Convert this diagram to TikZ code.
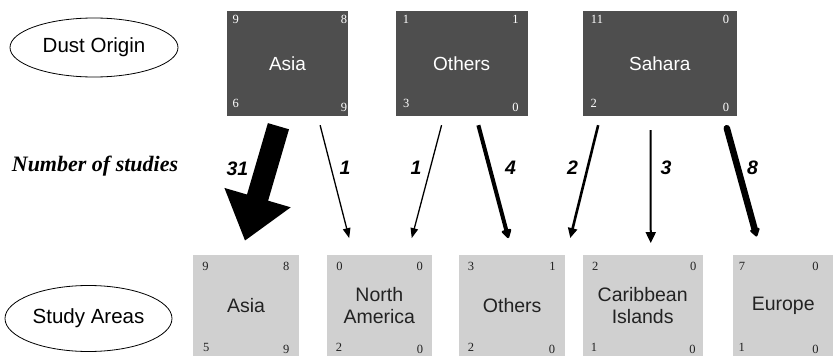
\documentclass[tikz,border=0pt]{standalone}
\usepackage{fontspec}
\setmainfont{Liberation Serif}
\newfontfamily\labelfont{Liberation Sans}
\usetikzlibrary{arrows.meta,calc,shapes.geometric}
\definecolor{darkbox}{HTML}{4E4E4E}
\definecolor{lightbox}{HTML}{D0D0D0}
\definecolor{inktext}{HTML}{222222}

\begin{document}
\begin{tikzpicture}[x=1pt,y=-1pt,
  oval/.style={ellipse, draw=black, line width=0.8pt, inner sep=0,
    font=\labelfont\fontsize{20.5}{24}\selectfont},
  srcbox/.style={rectangle, fill=darkbox, text=white, inner sep=0,
    minimum height=105pt, font=\labelfont\fontsize{19}{22}\selectfont},
  dstbox/.style={rectangle, fill=lightbox, text=inktext, inner sep=0,
    minimum height=101pt, align=center,
    font=\labelfont\fontsize{19.5}{22}\selectfont},
  srcnum/.style={text=white, inner sep=0, font=\fontsize{12.5}{13}\selectfont},
  dstnum/.style={text=inktext, inner sep=0, font=\fontsize{12.5}{13}\selectfont},
  count/.style={inner sep=0, font=\labelfont\bfseries\itshape\fontsize{19.5}{20}\selectfont},
  thinflow/.style={draw=black, line width=1.3pt, -{Triangle[width=7.5pt,length=10pt]}},
]
\useasboundingbox (0,0) rectangle (833,356);

% legend ovals and side caption
\node[oval, minimum width=168pt, minimum height=59pt] (origin) at (94,47.5) {Dust Origin};
\node[oval, minimum width=167pt, minimum height=66pt] (areas) at (88.5,318.5) {Study Areas};
\node[inner sep=0, font=\bfseries\itshape\fontsize{22}{24}\selectfont] (nstudies) at (95,166) {Number of studies};

% dust source regions
\node[srcbox, minimum width=120.4pt] (asiaT) at (287.5,63.5) {Asia};
\node[srcbox, minimum width=132pt]   (othT)  at (461.7,63.5) {Others};
\node[srcbox, minimum width=153.7pt] (sahT)  at (659.8,63.5) {Sahara};

% study areas
\node[dstbox, minimum width=106pt]   (asiaB) at (246,305.5) {Asia};
\node[dstbox, minimum width=105.3pt] (naB)   at (379.3,305.5) {North\\America};
\node[dstbox, minimum width=105.7pt] (othB)  at (512.2,305.5) {Others};
\node[dstbox, minimum width=120pt]   (carB)  at (642.7,305.5) {Caribbean\\Islands};
\node[dstbox, minimum width=99.7pt]  (eurB)  at (783.2,305.5) {Europe};

% corner figures of the source boxes
\node[srcnum] (asiaT-tl) at (235.7,19) {9};
\node[srcnum] (asiaT-tr) at (344,19) {8};
\node[srcnum] (asiaT-bl) at (235.7,103.5) {6};
\node[srcnum] (asiaT-br) at (344,107.5) {9};
\node[srcnum] (othT-tl) at (406,19) {1};
\node[srcnum] (othT-tr) at (515.5,19) {1};
\node[srcnum] (othT-bl) at (406.3,103.5) {3};
\node[srcnum] (othT-br) at (515.5,107.5) {0};
\node[srcnum] (sahT-tl) at (597,19) {11};
\node[srcnum] (sahT-tr) at (726,19) {0};
\node[srcnum] (sahT-bl) at (593.7,103.5) {2};
\node[srcnum] (sahT-br) at (726,107.5) {0};

% corner figures of the study-area boxes
\node[dstnum] (asiaB-tl) at (205.5,266) {9};
\node[dstnum] (asiaB-tr) at (286.3,266) {8};
\node[dstnum] (asiaB-bl) at (206.3,347) {5};
\node[dstnum] (asiaB-br) at (286.3,349) {9};
\node[dstnum] (naB-tl) at (339.5,266) {0};
\node[dstnum] (naB-tr) at (419.7,266) {0};
\node[dstnum] (naB-bl) at (339,347) {2};
\node[dstnum] (naB-br) at (420,349) {0};
\node[dstnum] (othB-tl) at (471,266) {3};
\node[dstnum] (othB-tr) at (552.5,266) {1};
\node[dstnum] (othB-bl) at (471,347) {2};
\node[dstnum] (othB-br) at (552,349) {0};
\node[dstnum] (carB-tl) at (595.3,266) {2};
\node[dstnum] (carB-tr) at (693.3,266) {0};
\node[dstnum] (carB-bl) at (594,347) {1};
\node[dstnum] (carB-br) at (692.5,349) {0};
\node[dstnum] (eurB-tl) at (742,266) {7};
\node[dstnum] (eurB-tr) at (815.5,266) {0};
\node[dstnum] (eurB-bl) at (741.7,347) {1};
\node[dstnum] (eurB-br) at (815.5,349) {0};

% flows from source to study area, width by number of studies
\draw[draw=black, line width=22pt, -{Triangle[width=66pt,length=45pt]}]
  ($(asiaT.south west)!0.425!(asiaT.south east)+(0,10)$) --
  ($(asiaB.north west)!0.49!(asiaB.north east)+(0,-14)$);
\draw[thinflow]
  ($(asiaT.south west)!0.77!(asiaT.south east)+(0,9)$) --
  ($(naB.north west)!0.215!(naB.north east)+(0,-16.7)$);
\draw[thinflow]
  ($(othT.south west)!0.348!(othT.south east)+(0,9)$) --
  ($(naB.north west)!0.807!(naB.north east)+(0,-16.7)$);
\draw[draw=black, line width=4pt, -{Triangle[width=11pt,length=10pt,round]}]
  ($(othT.south west)!0.626!(othT.south east)+(0,9)$) --
  ($(othB.north west)!0.464!(othB.north east)+(0,-16.7)$);
\draw[draw=black, line width=2.6pt, -{Triangle[width=9pt,length=10pt]}]
  ($(sahT.south west)!0.1!(sahT.south east)+(0,9)$) --
  ($(othB.north west)!1.047!(othB.north east)+(0,-16.7)$);
\draw[draw=black, line width=2pt, -{Triangle[width=10pt,length=11pt]}]
  ($(sahT.south west)!0.44!(sahT.south east)+(0,14)$) --
  ($(carB.north west)!0.567!(carB.north east)+(0,-11.7)$);
\draw[draw=black, line width=6.5pt, line cap=round, -{Triangle[width=11pt,length=9pt,round]}]
  ($(sahT.south west)!0.935!(sahT.south east)+(0,12)$) --
  ($(eurB.north west)!0.235!(eurB.north east)+(0,-18.3)$);

% number of studies on each flow
\node[count] (n31) at (237.5,168.3) {31};
\node[count] (n1a) at (345,168) {1};
\node[count] (n1b) at (416,168) {1};
\node[count] (n4)  at (510.5,168) {4};
\node[count] (n2)  at (572.5,168) {2};
\node[count] (n3)  at (666,168) {3};
\node[count] (n8)  at (752.5,168) {8};
\end{tikzpicture}
\end{document}
